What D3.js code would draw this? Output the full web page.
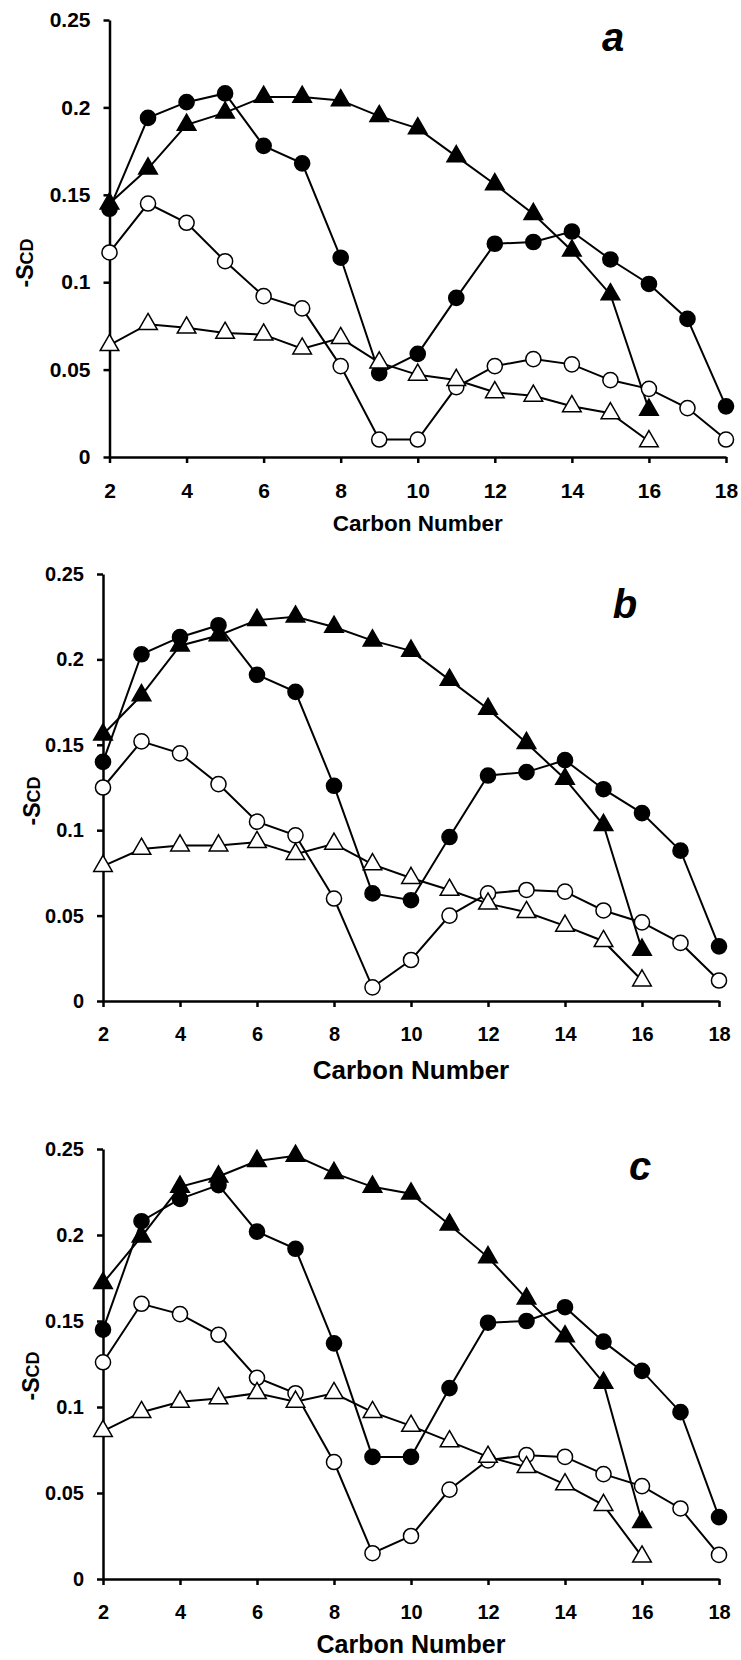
<!DOCTYPE html>
<html>
<head>
<meta charset="utf-8">
<script src="https://cdn.jsdelivr.net/npm/d3@7"></script>
<style>
  body { margin: 0; background: #fff; }
  text { font-family: "Liberation Sans", Arial, sans-serif; font-weight: bold; fill: #000; }
</style>
</head>
<body>
<div id="chart"></div>
<script>
// carbon positions
var carbons18 = d3.range(2, 19);   // 2..18
var carbons16 = d3.range(2, 17);   // 2..16
var xTicks = [2, 4, 6, 8, 10, 12, 14, 16, 18];
var yTicks = [0, 0.05, 0.1, 0.15, 0.2, 0.25];

// panel a
var a_filledCircle = [0.142, 0.194, 0.203, 0.208, 0.178, 0.168, 0.114, 0.048, 0.059, 0.091, 0.122, 0.123, 0.129, 0.113, 0.099, 0.079, 0.029];
var a_filledTri    = [0.145, 0.165, 0.190, 0.197, 0.206, 0.206, 0.204, 0.195, 0.188, 0.172, 0.156, 0.139, 0.118, 0.093, 0.027];
var a_openCircle   = [0.117, 0.145, 0.134, 0.112, 0.092, 0.085, 0.052, 0.010, 0.010, 0.040, 0.052, 0.056, 0.053, 0.044, 0.039, 0.028, 0.010];
var a_openTri      = [0.064, 0.076, 0.074, 0.071, 0.070, 0.062, 0.068, 0.054, 0.047, 0.044, 0.037, 0.035, 0.029, 0.025, 0.009];

// panel b
var b_filledCircle = [0.140, 0.203, 0.213, 0.220, 0.191, 0.181, 0.126, 0.063, 0.059, 0.096, 0.132, 0.134, 0.141, 0.124, 0.110, 0.088, 0.032];
var b_filledTri    = [0.156, 0.179, 0.208, 0.214, 0.223, 0.225, 0.219, 0.211, 0.205, 0.188, 0.171, 0.151, 0.130, 0.103, 0.030];
var b_openCircle   = [0.125, 0.152, 0.145, 0.127, 0.105, 0.097, 0.060, 0.008, 0.024, 0.050, 0.063, 0.065, 0.064, 0.053, 0.046, 0.034, 0.012];
var b_openTri      = [0.079, 0.089, 0.091, 0.091, 0.093, 0.086, 0.092, 0.080, 0.072, 0.065, 0.057, 0.052, 0.044, 0.035, 0.012];

// panel c
var c_filledCircle = [0.145, 0.208, 0.221, 0.229, 0.202, 0.192, 0.137, 0.071, 0.071, 0.111, 0.149, 0.150, 0.158, 0.138, 0.121, 0.097, 0.036];
var c_filledTri    = [0.172, 0.199, 0.228, 0.234, 0.243, 0.246, 0.236, 0.228, 0.224, 0.206, 0.187, 0.163, 0.141, 0.114, 0.033];
var c_openCircle   = [0.126, 0.160, 0.154, 0.142, 0.117, 0.108, 0.068, 0.015, 0.025, 0.052, 0.069, 0.072, 0.071, 0.061, 0.054, 0.041, 0.014];
var c_openTri      = [0.086, 0.097, 0.103, 0.105, 0.108, 0.103, 0.108, 0.097, 0.089, 0.080, 0.071, 0.065, 0.055, 0.043, 0.013];

var W = 741, H = 1660;

var panels = [
    { letter: "a", series: [a_filledCircle, a_filledTri, a_openCircle, a_openTri],
      x0: 109.5, x1: 726, y0: 457, y1: 20, tickFont: 21, titleFont: 22.5, titleGap: 66,
      ylab: [25, 263], letterPos: [613, 51] },
    { letter: "b", series: [b_filledCircle, b_filledTri, b_openCircle, b_openTri],
      x0: 103, x1: 719, y0: 1001, y1: 574, tickFont: 20, titleFont: 26, titleGap: 69,
      ylab: [32, 801], letterPos: [625, 618] },
    { letter: "c", series: [c_filledCircle, c_filledTri, c_openCircle, c_openTri],
      x0: 103, x1: 719, y0: 1579, y1: 1149, tickFont: 20, titleFont: 25, titleGap: 65,
      ylab: [31, 1376], letterPos: [640, 1180] }
];

// marker styles per series: filled circle, filled triangle, open circle, open triangle
var styles = [
    { shape: d3.symbolCircle, fill: "#000" },
    { shape: d3.symbolTriangle, fill: "#000" },
    { shape: d3.symbolCircle, fill: "#fff" },
    { shape: d3.symbolTriangle, fill: "#fff" }
];

var svg = d3.select("#chart").append("svg")
    .attr("width", W)
    .attr("height", H)
    .style("background-color", "white");

panels.forEach(function(p) {
    var x = d3.scaleLinear().domain([2, 18]).range([p.x0, p.x1]);
    var y = d3.scaleLinear().domain([0, 0.25]).range([p.y0, p.y1]);
    var g = svg.append("g").attr("class", "panel-" + p.letter);

    // axes
    var yAxis = g.append("g")
        .attr("transform", "translate(" + p.x0 + ",0)")
        .call(d3.axisLeft(y).tickValues(yTicks).tickSize(6).tickSizeOuter(0).tickPadding(13)
            .tickFormat(function(d) { return String(+d.toFixed(2)); }));
    var xAxis = g.append("g")
        .attr("transform", "translate(0," + p.y0 + ")")
        .call(d3.axisBottom(x).tickValues(xTicks).tickSize(6).tickSizeOuter(0).tickPadding(20)
            .tickFormat(d3.format("d")));

    [xAxis, yAxis].forEach(function(ax) {
        ax.select(".domain").attr("stroke", "#000").attr("stroke-width", 2.5);
        ax.selectAll(".tick line").attr("stroke", "#000").attr("stroke-width", 2.5);
        ax.selectAll(".tick text")
            .style("font-family", '"Liberation Sans", Arial, sans-serif')
            .style("font-weight", "bold")
            .style("font-size", p.tickFont + "px")
            .attr("fill", "#000");
    });

    // series
    p.series.forEach(function(vals, i) {
        var xs = vals.length === 17 ? carbons18 : carbons16;
        var pts = vals.map(function(v, j) { return [xs[j], v]; });
        var line = d3.line()
            .x(function(d) { return x(d[0]); })
            .y(function(d) { return y(d[1]); });

        var sg = g.append("g").attr("class", "series");
        sg.append("path")
            .datum(pts)
            .attr("d", line)
            .attr("fill", "none")
            .attr("stroke", "#000")
            .attr("stroke-width", 2);

        var sym = d3.symbol().type(styles[i].shape)
            .size(styles[i].shape === d3.symbolCircle ? 180 : 150);
        sg.selectAll("path.mark")
            .data(pts)
            .enter()
            .append("path")
            .attr("class", "mark")
            .attr("d", sym)
            .attr("transform", function(d) { return "translate(" + x(d[0]) + "," + y(d[1]) + ")"; })
            .attr("fill", styles[i].fill)
            .attr("stroke", "#000")
            .attr("stroke-width", 1.5);
    });

    // x title
    g.append("text")
        .attr("x", (p.x0 + p.x1) / 2)
        .attr("y", p.y0 + p.titleGap + p.titleFont * 0.36)
        .style("text-anchor", "middle")
        .style("font-size", p.titleFont + "px")
        .text("Carbon Number");

    // y title
    var yt = g.append("text")
        .attr("transform", "translate(" + (p.ylab[0] + 8) + "," + p.ylab[1] + ") rotate(-90)")
        .style("text-anchor", "middle");
    yt.append("tspan").style("font-size", "23px").text("-S");
    yt.append("tspan").style("font-size", "18px").text("CD");

    // panel letter
    g.append("text")
        .attr("x", p.letterPos[0])
        .attr("y", p.letterPos[1])
        .style("text-anchor", "middle")
        .style("font-style", "italic")
        .style("font-size", "40px")
        .text(p.letter);
});
</script>
</body>
</html>
